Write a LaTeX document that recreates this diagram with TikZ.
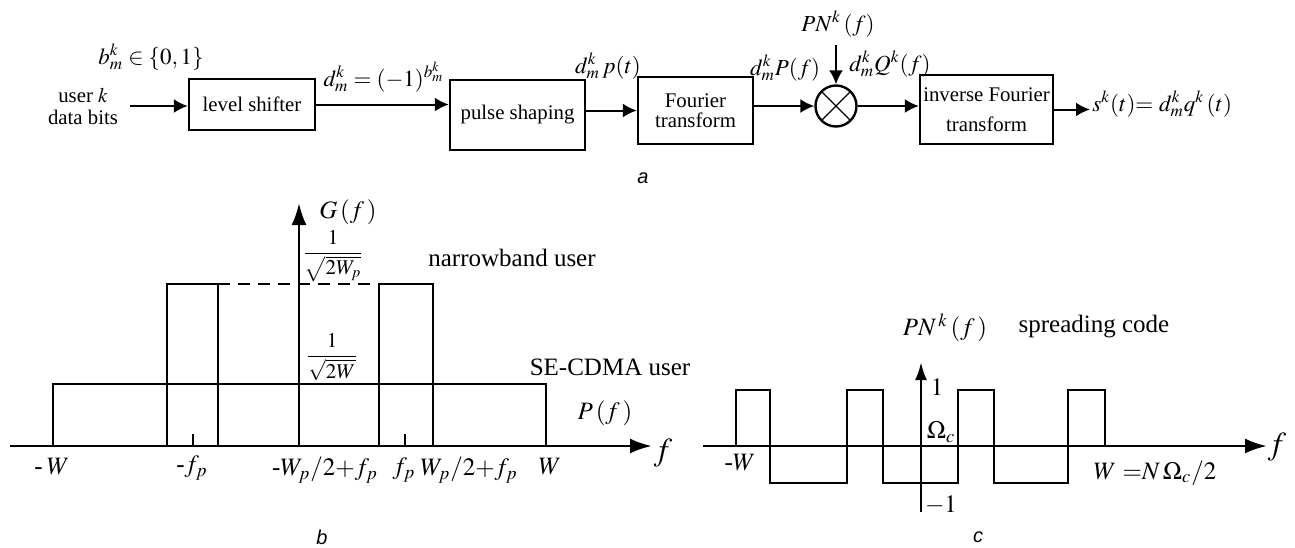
\documentclass[tikz,border=0pt]{standalone}
\usepackage{mathptmx}
\usepackage{fontspec}
\setmainfont{Liberation Serif}
\setsansfont{Liberation Sans}
\usetikzlibrary{arrows.meta,calc}
\tikzset{
  block/.style  = {draw, line width=1.2pt, align=center, inner sep=0pt,
                   font=\fontsize{10.4}{11}\selectfont},
  mixer/.style  = {draw, circle, line width=1.2pt, minimum size=20.5pt, inner sep=0pt,
                   path picture={\draw[line width=0.6pt]
                     (path picture bounding box.north west) -- (path picture bounding box.south east)
                     (path picture bounding box.north east) -- (path picture bounding box.south west);}},
  lbl/.style    = {inner sep=1pt, font=\fontsize{11.5}{13}\selectfont},
  plbl/.style   = {inner sep=1pt, font=\fontsize{12.5}{14}\selectfont},
  frc/.style    = {inner sep=0pt, font=\fontsize{10.5}{12}\selectfont},
  capt/.style   = {inner sep=0pt, font=\sffamily\itshape\fontsize{10}{12}\selectfont},
  arrow/.style  = {-{Latex[length=7pt,width=7pt]}, line width=1pt},
  axis/.style   = {-{Latex[length=11pt,width=7.5pt]}, line width=1.4pt},
  wave/.style   = {line width=1pt},
}
\begin{document}
\begin{tikzpicture}[x=0.5pt, y=-0.5pt]
  \useasboundingbox (0,0) rectangle (1295,547);
  % (a) transmitter chain
  \node[lbl] (bits) at (151,57) {$b_m^k\in\{0,1\}$};
  \node[align=center, inner sep=1pt, font=\fontsize{10.4}{11}\selectfont] (usr) at (83,106) {user $k$\\data bits};
  \node[block, minimum width=63pt, minimum height=25.5pt] (ls) at (252,104.5) {level shifter};
  \node[block, minimum width=67.5pt, minimum height=35pt] (ps) at (517.5,115) {pulse shaping};
  \node[block, minimum width=57.5pt, minimum height=33.5pt] (ft) at (695.5,110.5) {Fourier\\[-1pt]transform};
  \node[mixer] (mix) at (836,106) {};
  \node[block, minimum width=66.5pt, minimum height=34.5pt] (ift) at (986.5,109.5) {inverse Fourier\\[4pt]transform};
  \node[lbl] (pn) at (838,24) {$PN^k\,(f)$};
  \node[lbl, anchor=west] (out) at (1090,104) {$s^k(t){=}\ d_m^k q^k\,(t)$};
  \node[lbl] (dm) at (384,77) {$d_m^k=(-1)^{b_m^k}$};
  \node[lbl] (dp) at (608,66) {$d_m^k\,p(t)$};
  \node[lbl] (dP) at (785,68) {$d_m^kP(f)$};
  \node[lbl] (dQ) at (890,64) {$d_m^kQ^k(f)$};
  \draw[arrow] ([xshift=5pt]usr.east) -- (ls.west |- usr.east);
  \draw[arrow] (ls.east) -- (ls.east -| ps.west);
  \draw[arrow] (ft.west -| ps.east) -- (ft.west);
  \draw[arrow] (mix.west -| ft.east) -- (mix.west);
  \draw[arrow] (mix.east) -- (mix.east -| ift.west);
  \draw[arrow] (ift.east) -- (ift.east -| out.west);
  \draw[arrow] ([yshift=-3pt]mix.north |- pn.south) -- (mix.north);
  \node[capt] (ca) at (643,178) {a};
  % (b) spectra
  \draw[axis] (10,446) -- (652,446);
  \draw[axis] (299,446) -- (299,203);
  \draw[wave] (53,446) |- (546,384) -- (546,446);
  \draw[wave] (167,446) |- (218,284) -- (218,446);
  \draw[wave] (379,446) |- (433,284) -- (433,446);
  \draw[wave, dashed, dash pattern=on 6pt off 4pt] (218,284) -- (379,284);
  \draw[wave] (193,446) -- (193,434);
  \draw[wave] (405,446) -- (405,434);
  \node[plbl] (gf) at (348,212) {$G\,(f\,)$};
  \node[frc] (hp) at (333,256) {$\displaystyle\frac{1}{\sqrt{2W_p}}$};
  \node[frc] (hw) at (332,357) {$\displaystyle\frac{1}{\sqrt{2W}}$};
  \node[plbl] (nb) at (512,258) {narrowband user};
  \node[plbl] (se) at (610,367) {SE-CDMA user};
  \node[plbl] (pf) at (605,413) {$P\,(f\,)$};
  \node[plbl] (tw1) at (52,467) {-\,$W$};
  \node[plbl] (tf1) at (192,468) {-$f_p$};
  \node[plbl] (tw2) at (325,470) {-$W_p/2{+}f_p$};
  \node[plbl] (tf2) at (404,470) {$f_p$};
  \node[plbl] (tw3) at (469,470) {$W_p/2{+}f_p$};
  \node[plbl] (tw4) at (550,467) {$W$};
  \node[plbl, font=\fontsize{16}{18}\selectfont] (fb) at (663,453) {$f$};
  \node[capt] (cb) at (322,537) {b};
  % (c) spreading code
  \draw[axis] (703,446) -- (1267,446);
  \draw[axis, -{Latex[length=9pt,width=6pt]}] (921,512) -- (921,362);
  \draw[wave] (736,446) -- (736,390) -- (770,390) -- (770,483) -- (847,483) -- (847,390)
    -- (883,390) -- (883,483) -- (958,483) -- (958,390) -- (994,390) -- (994,483)
    -- (1068,483) -- (1068,390) -- (1105,390) -- (1105,446);
  \node[plbl] (pnf) at (945,328) {$PN^{\,k}\,(f\,)$};
  \node[plbl] (sc) at (1094,327) {spreading code};
  \node[plbl] (one) at (937,387) {$1$};
  \node[plbl] (om) at (941,432) {$\Omega_c$};
  \node[plbl] (tw5) at (740,463) {-$W$};
  \node[plbl] (mone) at (941,505) {$-1$};
  \node[plbl] (wn) at (1155,473) {$W\ {=}N\,\Omega_c/2$};
  \node[plbl, font=\fontsize{16}{18}\selectfont] (fc) at (1277,447) {$f$};
  \node[capt] (cc) at (978,537) {c};
\end{tikzpicture}
\end{document}
